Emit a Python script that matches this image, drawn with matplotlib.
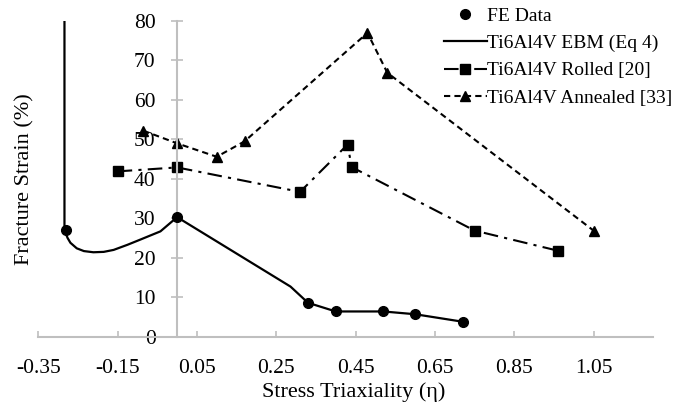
import matplotlib
matplotlib.use('Agg')
import matplotlib.pyplot as plt

plt.rcParams['font.family'] = ['Liberation Serif', 'DejaVu Serif']

# FE data points
fe_eta = [-0.28, 0.0, 0.33, 0.40, 0.52, 0.60, 0.72]
fe_strain = [27.1, 30.3, 8.6, 6.4, 6.4, 5.7, 3.8]

# Ti6Al4V EBM (Eq 4) curve
ebm_eta = [-0.284, -0.284, -0.281, -0.276, -0.269, -0.253, -0.235, -0.211, -0.185,
           -0.160, -0.125, -0.093, -0.042, 0.0, 0.286, 0.33, 0.40, 0.52,
           0.60, 0.72]
ebm_strain = [80.0, 28.0, 26.2, 25.0, 23.8, 22.4, 21.7, 21.4, 21.5,
              22.0, 23.3, 24.6, 26.7, 30.3, 12.7, 8.6, 6.4, 6.4,
              5.7, 3.8]

# Ti6Al4V Rolled [20]
rolled_eta = [-0.15, 0.0, 0.31, 0.43, 0.44, 0.75, 0.96]
rolled_strain = [41.9, 42.9, 36.7, 48.7, 43.0, 26.9, 21.8]

# Ti6Al4V Annealed [33]
ann_eta = [-0.085, 0.0, 0.10, 0.17, 0.48, 0.53, 1.05]
ann_strain = [52.2, 49.0, 45.6, 49.5, 77.0, 66.9, 26.9]

xticks = [-0.35, -0.15, 0.05, 0.25, 0.45, 0.65, 0.85, 1.05]
yticks = [0, 10, 20, 30, 40, 50, 60, 70, 80]

fig = plt.figure(figsize=(6.73, 4.05), dpi=100)
ax = fig.add_axes([0.0569, 0.1686, 0.9134, 0.7795])

ax.plot(fe_eta, fe_strain, linestyle='none', marker='o', color='black',
        markersize=7, label='FE Data', zorder=5)
ax.plot(ebm_eta, ebm_strain, '-', color='black', linewidth=1.6,
        label='Ti6Al4V EBM (Eq 4)')
ax.plot(rolled_eta, rolled_strain, color='black', linewidth=1.5,
        dashes=(7, 3, 1.5, 3), marker='s', markersize=6.5,
        label='Ti6Al4V Rolled [20]')
ax.plot(ann_eta, ann_strain, color='black', linewidth=1.5,
        dashes=(3, 2), marker='^', markersize=7.5,
        label='Ti6Al4V Annealed [33]')

ax.set_xlim(-0.35, 1.2)
ax.set_ylim(0, 80)
ax.set_xticks(xticks)
ax.set_xticklabels(['%.2f' % t for t in xticks])
ax.set_yticks(yticks)

for s in ['top', 'right']:
    ax.spines[s].set_visible(False)
ax.spines['left'].set_position(('data', 0))
ax.spines['bottom'].set_position(('data', 0))
for s in ['left', 'bottom']:
    ax.spines[s].set_color('#bfbfbf')
    ax.spines[s].set_linewidth(1.5)

ax.tick_params(axis='x', direction='in', length=4, width=1.2, color='#bfbfbf',
               labelsize=15.5, pad=16)
ax.tick_params(axis='y', direction='inout', length=9, width=1.2, color='#bfbfbf',
               labelsize=15.5, pad=11)

fig.text(354 / 673, 1 - 392 / 405, 'Stress Triaxiality (η)', fontsize=16,
         ha='center', va='center')
fig.text(25 / 673, 1 - 179 / 405, 'Fracture Strain (%)', fontsize=16,
         rotation=90, ha='center', va='center')

ax.legend(loc='upper left', bbox_to_anchor=(444 / 673, 1 - 7 / 405),
          bbox_transform=fig.transFigure, frameon=False, fontsize=14,
          handlelength=2.2, handletextpad=0.0, labelspacing=0.5,
          borderpad=0.0, borderaxespad=0.0, numpoints=1)

fig.savefig('out.png', dpi=100)
